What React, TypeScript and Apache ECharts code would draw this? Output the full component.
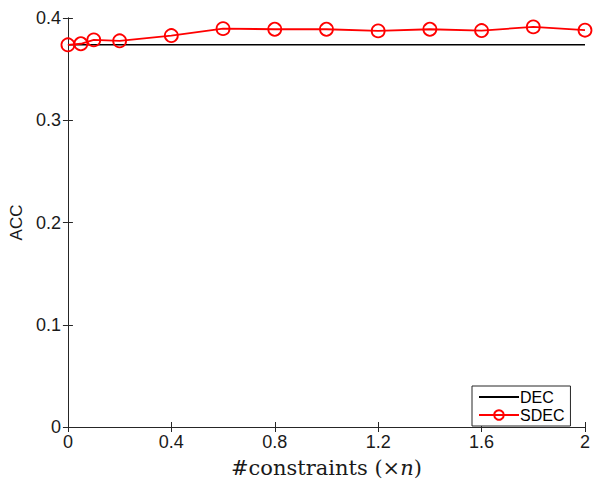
import React, { useEffect, useRef } from "react";
import * as echarts from "echarts";

const xValues = [0, 0.05, 0.1, 0.2, 0.4, 0.6, 0.8, 1.0, 1.2, 1.4, 1.6, 1.8, 2.0];
const sdecValues = [0.3738, 0.3748, 0.3786, 0.3777, 0.3828, 0.3896, 0.389, 0.389, 0.3874, 0.389, 0.3877, 0.3913, 0.3881];
const decValue = 0.3738;
const decX = [0, 2];
const xTicks = [0, 0.4, 0.8, 1.2, 1.6, 2];
const yTicks = [0, 0.1, 0.2, 0.3, 0.4];

export default function App() {
  const ref = useRef<HTMLDivElement>(null);
  useEffect(() => {
    const chart = echarts.init(ref.current!, null, { renderer: "svg" });
    const axisColor = "#262626";
    const sans = "Liberation Sans";
    const serif = "DejaVu Serif";
    const commonAxis = {
      axisLine: { show: true, lineStyle: { color: axisColor, width: 1 } },
      axisTick: { show: true, inside: true, length: 5, lineStyle: { color: axisColor } },
      splitLine: { show: false },
    };
    chart.setOption({
      animation: false,
      backgroundColor: "#fff",
      grid: { left: 66, top: 18, right: 7, bottom: 53, containLabel: false },
      xAxis: [
        {
          type: "value",
          min: 0,
          max: 2,
          interval: 0.4,
          position: "bottom",
          ...commonAxis,
          axisLabel: {
            color: "#1a1a1a",
            fontFamily: sans,
            fontSize: 18,
            margin: 6,
            formatter: (v: number) => {
              const r = Math.round(v * 10) / 10;
              return xTicks.includes(r) ? String(r) : "";
            },
          },
          name: "{a|#constraints (×}{b|n}{a|)}",
          nameLocation: "middle",
          nameGap: 30,
          nameTextStyle: {
            rich: {
              a: { fontFamily: serif, fontSize: 21, fontWeight: "normal", color: "#1a1a1a" },
              b: { fontFamily: serif, fontSize: 21, fontStyle: "italic", color: "#1a1a1a" },
            },
          },
        },
        {
          type: "value",
          min: 0,
          max: 2,
          interval: 0.4,
          position: "top",
          ...commonAxis,
          axisLabel: { show: false },
        },
      ],
      yAxis: [
        {
          type: "value",
          min: 0,
          max: 0.4,
          interval: 0.1,
          position: "left",
          ...commonAxis,
          axisLabel: {
            color: "#1a1a1a",
            fontFamily: sans,
            fontSize: 18,
            margin: 7,
            formatter: (v: number) => {
              const r = Math.round(v * 10) / 10;
              return yTicks.includes(r) ? String(r) : "";
            },
          },
          name: "ACC",
          nameLocation: "middle",
          nameGap: 39,
          nameTextStyle: { fontFamily: sans, fontSize: 17, color: "#1a1a1a" },
        },
        {
          type: "value",
          min: 0,
          max: 0.4,
          interval: 0.1,
          position: "right",
          ...commonAxis,
          axisLabel: { show: false },
        },
      ],
      legend: {
        left: 472,
        top: 386,
        orient: "vertical",
        itemWidth: 40,
        itemHeight: 12,
        itemGap: 2,
        padding: [3, 6, 3, 6],
        borderColor: "#262626",
        borderWidth: 1,
        backgroundColor: "#fff",
        textStyle: { fontFamily: sans, fontSize: 16, color: "#000", padding: [0, 0, 0, -4] },
        data: [
          { name: "DEC", itemStyle: { opacity: 0 } },
          { name: "SDEC" },
        ],
      },
      series: [
        {
          name: "DEC",
          type: "line",
          data: decX.map((x) => [x, decValue]),
          symbol: "none",
          lineStyle: { color: "#000", width: 1.5 },
          itemStyle: { color: "#000" },
        },
        {
          name: "SDEC",
          type: "line",
          data: xValues.map((x, i) => [x, sdecValues[i]]),
          symbol: "circle",
          symbolSize: 13,
          showAllSymbol: true,
          lineStyle: { color: "#ff0000", width: 1.8 },
          itemStyle: { color: "none", borderColor: "#ff0000", borderWidth: 1.8 },
          clip: false,
          z: 3,
        },
      ],
    });
    return () => chart.dispose();
  }, []);
  return <div ref={ref} style={{ width: 593, height: 483, position: "absolute", left: 0, top: 0 }} />;
}
